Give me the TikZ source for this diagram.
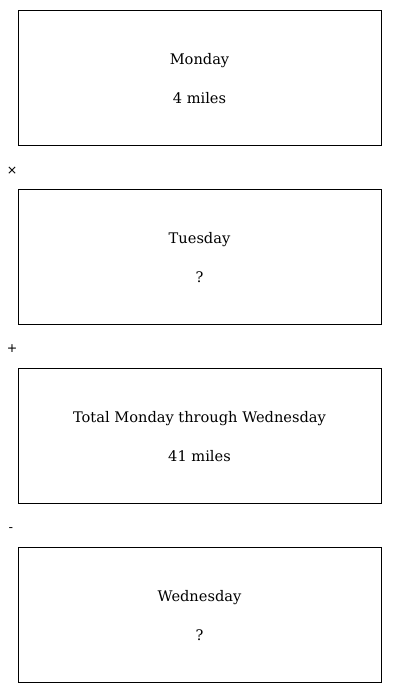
\documentclass[tikz,border=0pt]{standalone}
\usepackage{fontspec}
\newfontfamily\opfont{DejaVu Sans}
\newfontfamily\dayfont{DejaVu Serif}

\begin{document}
\begin{tikzpicture}[x=1pt,y=-1pt,
    daybox/.style={
        rectangle, draw=black, line width=0.8pt,
        minimum width=363pt, minimum height=135pt, inner sep=0pt
    },
    daytext/.style={font=\dayfont\fontsize{14.6}{17}\selectfont, inner sep=0pt, anchor=base},
    operator/.style={font=\opfont\fontsize{12.5}{14}\selectfont, inner sep=0pt}
]
\useasboundingbox (0,0) rectangle (400,693);

% Kästen
\node[daybox] (monday) at (199.5, 77.5) {};
\node[daybox] (tuesday) at (199.5, 256.5) {};
\node[daybox] (total) at (199.5, 435.5) {};
\node[daybox] (wednesday) at (199.5, 614.5) {};

% Texte in den Kästen
\node[daytext] (monday-title) at (199.5, 64.5) {Monday};
\node[daytext] (monday-value) at (199.5, 103.5) {4 miles};
\node[daytext] (tuesday-title) at (199.5, 243.5) {Tuesday};
\node[daytext] (tuesday-value) at (199.5, 282.5) {?};
\node[daytext] (total-title) at (199.5, 422.5) {Total Monday through Wednesday};
\node[daytext] (total-value) at (199.5, 461.5) {41 miles};
\node[daytext] (wednesday-title) at (199.5, 601.5) {Wednesday};
\node[daytext] (wednesday-value) at (199.5, 640.5) {?};

% Rechenzeichen
\node[operator] (times) at (12, 170.5) {×};
\node[operator] (plus) at (12, 348.5) {+};
\node[operator] (minus) at (11, 530) {-};

\end{tikzpicture}
\end{document}
